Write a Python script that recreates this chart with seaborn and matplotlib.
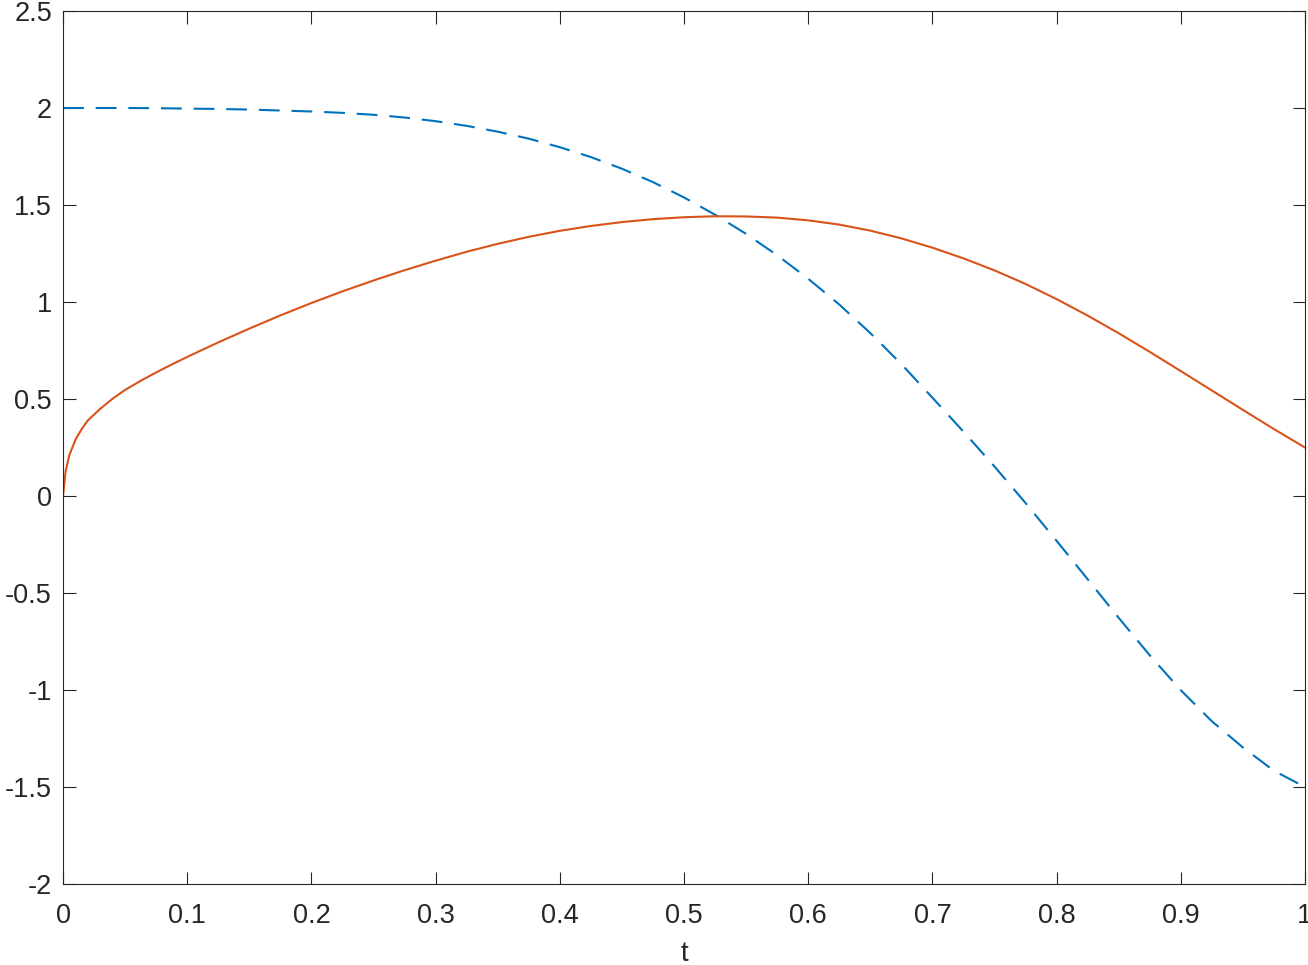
import numpy as np
import pandas as pd
import seaborn as sns
import matplotlib
matplotlib.use("Agg")
import matplotlib.pyplot as plt
from matplotlib.ticker import FixedLocator, FuncFormatter

# valores
t_azul = [0, 0.025, 0.05, 0.075, 0.1, 0.125, 0.15, 0.175, 0.2, 0.225, 0.25, 0.275,
          0.3, 0.325, 0.35, 0.375, 0.4, 0.425, 0.45, 0.475, 0.5, 0.525, 0.55, 0.575,
          0.6, 0.625, 0.65, 0.675, 0.7, 0.725, 0.75, 0.775, 0.8, 0.825, 0.85, 0.875,
          0.9, 0.925, 0.95, 0.975, 1.0]
y_azul = [2.0, 2.0, 2.0, 1.999, 1.997, 1.995, 1.992, 1.987, 1.982, 1.975, 1.965, 1.951,
          1.932, 1.908, 1.878, 1.842, 1.798, 1.747, 1.687, 1.618, 1.539, 1.45, 1.351, 1.241,
          1.12, 0.987, 0.84, 0.68, 0.507, 0.332, 0.152, -0.036, -0.231, -0.429, -0.628, -0.821,
          -1.001, -1.161, -1.296, -1.416, -1.5]

t_verm = [0, 0.002, 0.005, 0.01, 0.015, 0.02, 0.03, 0.04, 0.05, 0.0625, 0.075, 0.0875,
          0.1, 0.125, 0.15, 0.175, 0.2, 0.225, 0.25, 0.275, 0.3, 0.325, 0.35, 0.375,
          0.4, 0.425, 0.45, 0.475, 0.5, 0.525, 0.55, 0.575, 0.6, 0.625, 0.65, 0.675,
          0.7, 0.725, 0.75, 0.775, 0.8, 0.825, 0.85, 0.875, 0.9, 0.925, 0.95, 0.975, 1.0]
y_verm = [0, 0.125, 0.21, 0.29, 0.345, 0.39, 0.45, 0.502, 0.547, 0.594, 0.637, 0.678,
          0.717, 0.792, 0.863, 0.931, 0.995, 1.055, 1.111, 1.164, 1.213, 1.259, 1.3, 1.336,
          1.367, 1.392, 1.412, 1.427, 1.437, 1.442, 1.441, 1.435, 1.421, 1.399, 1.368, 1.328,
          1.28, 1.225, 1.163, 1.093, 1.015, 0.93, 0.839, 0.743, 0.644, 0.544, 0.444, 0.345, 0.25]

xticks = [0, 0.1, 0.2, 0.3, 0.4, 0.5, 0.6, 0.7, 0.8, 0.9, 1]
yticks = [-2, -1.5, -1, -0.5, 0, 0.5, 1, 1.5, 2, 2.5]

sns.set_style("white")
plt.rcParams['font.family'] = ['Liberation Sans Narrow', 'Liberation Sans', 'DejaVu Sans']
plt.rcParams['axes.unicode_minus'] = False
plt.rcParams['lines.scale_dashes'] = False

cor_eixo = '#262626'
fig = plt.figure(figsize=(13.08, 9.65), dpi=100)
ax = fig.add_axes([0.0482, 0.0839, 0.9495, 0.9047])

df_azul = pd.DataFrame({'t': t_azul, 'y': y_azul})
df_verm = pd.DataFrame({'t': t_verm, 'y': y_verm})

sns.lineplot(data=df_azul, x='t', y='y', ax=ax, color='#0072BD', linewidth=1.5,
             linestyle=(0, (15, 8.5)), sort=False, estimator=None)
sns.lineplot(data=df_verm, x='t', y='y', ax=ax, color='#D95319', linewidth=1.5,
             sort=False, estimator=None)

ax.set_xlim(0, 1)
ax.set_ylim(-2, 2.5)
ax.xaxis.set_major_locator(FixedLocator(xticks))
ax.yaxis.set_major_locator(FixedLocator(yticks))
fmt = FuncFormatter(lambda v, p: '%g' % v)
ax.xaxis.set_major_formatter(fmt)
ax.yaxis.set_major_formatter(fmt)

for s in ax.spines.values():
    s.set_visible(True)
    s.set_color(cor_eixo)
    s.set_linewidth(0.8)

ax.tick_params(axis='both', direction='in', length=9, width=0.8, color=cor_eixo,
               labelcolor=cor_eixo, labelsize=19.5, top=True, right=True,
               bottom=True, left=True)
ax.tick_params(axis='x', pad=14)
ax.tick_params(axis='y', pad=8)

ax.set_xlabel('t', fontsize=20, color=cor_eixo, labelpad=8)
ax.set_ylabel('')

fig.savefig('out.png', dpi=100, facecolor='white')
